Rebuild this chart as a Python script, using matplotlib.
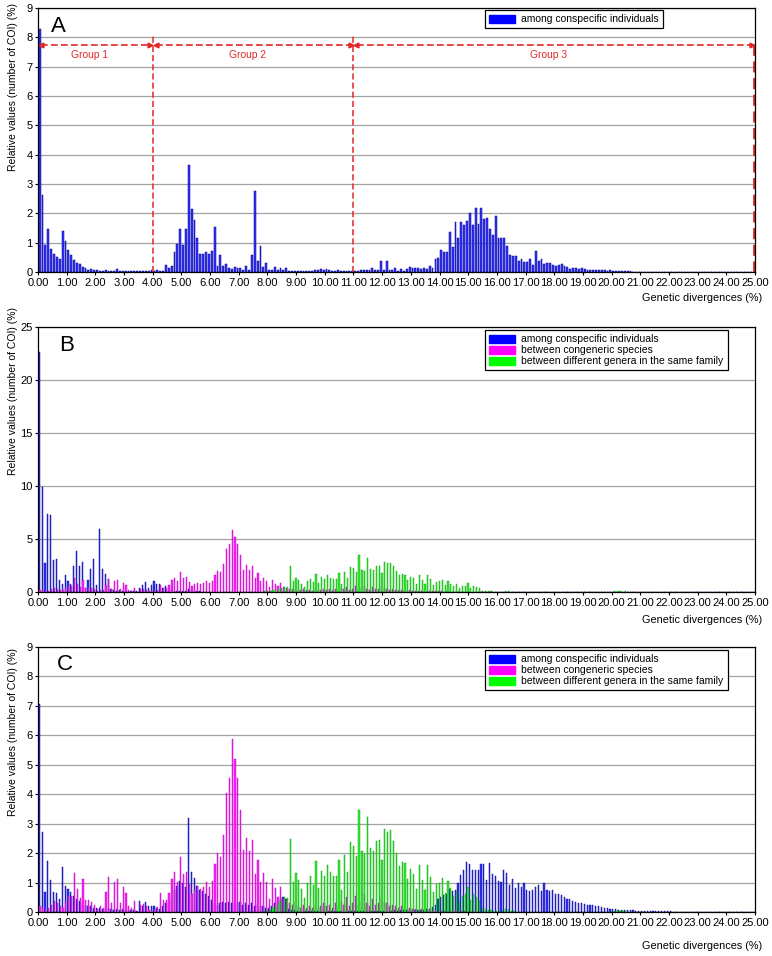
import numpy as np
import matplotlib.pyplot as plt
from matplotlib.patches import Patch

plt.rcParams['font.family'] = ['Liberation Sans', 'DejaVu Sans']

# 250 bins of 0.1 % divergence (0.0 .. 24.9), one row of 10 bins per 1 %
panel_a_conspecific = [
    8.30, 2.62, 0.92, 1.45, 0.77, 0.61, 0.50, 0.43, 1.41, 1.06,
    0.75, 0.58, 0.42, 0.29, 0.28, 0.17, 0.12, 0.08, 0.11, 0.07,
    0.06, 0.05, 0.05, 0.06, 0.05, 0.05, 0.04, 0.09, 0.05, 0.04,
    0.03, 0.04, 0.03, 0.03, 0.04, 0.03, 0.04, 0.03, 0.05, 0.08,
    0.05, 0.06, 0.04, 0.05, 0.24, 0.15, 0.19, 0.68, 0.94, 1.45,
    0.92, 1.45, 3.64, 2.16, 1.76, 1.15, 0.61, 0.61, 0.67, 0.63,
    0.72, 1.55, 0.19, 0.58, 0.20, 0.26, 0.14, 0.10, 0.18, 0.14,
    0.14, 0.07, 0.22, 0.07, 0.58, 2.77, 0.38, 0.90, 0.16, 0.32,
    0.07, 0.07, 0.17, 0.07, 0.14, 0.07, 0.14, 0.05, 0.04, 0.03,
    0.04, 0.03, 0.03, 0.03, 0.04, 0.05, 0.06, 0.08, 0.10, 0.08,
    0.10, 0.06, 0.05, 0.04, 0.06, 0.04, 0.03, 0.04, 0.03, 0.04,
    0.04, 0.05, 0.06, 0.08, 0.07, 0.08, 0.12, 0.06, 0.07, 0.38,
    0.06, 0.38, 0.06, 0.06, 0.15, 0.05, 0.09, 0.05, 0.09, 0.17,
    0.12, 0.12, 0.12, 0.10, 0.12, 0.09, 0.22, 0.12, 0.45, 0.49,
    0.75, 0.69, 0.69, 1.37, 0.86, 1.72, 1.15, 1.70, 1.60, 1.75,
    2.00, 1.60, 2.17, 1.64, 2.19, 1.80, 1.83, 1.48, 1.27, 1.90,
    1.16, 1.16, 1.16, 0.90, 0.57, 0.56, 0.55, 0.38, 0.45, 0.34,
    0.34, 0.45, 0.24, 0.72, 0.38, 0.44, 0.28, 0.30, 0.30, 0.23,
    0.20, 0.24, 0.27, 0.20, 0.18, 0.11, 0.12, 0.12, 0.10, 0.12,
    0.10, 0.08, 0.08, 0.07, 0.07, 0.06, 0.06, 0.06, 0.05, 0.06,
    0.04, 0.04, 0.03, 0.03, 0.03, 0.03, 0.02, 0.00, 0.00, 0.00,
] + [0.0] * 40

panel_b_conspecific = [
    22.6, 9.90, 2.75, 7.34, 7.25, 3.00, 3.13, 1.17, 0.73, 1.58,
    1.01, 0.73, 2.44, 3.83, 2.50, 2.82, 0.41, 1.11, 2.18, 3.10,
    0.63, 5.92, 2.15, 1.68, 1.20, 0.28, 0.15, 0.10, 0.20, 0.10,
    0.05, 0.10, 0.05, 0.10, 0.05, 0.40, 0.66, 0.92, 0.41, 0.66,
    1.07, 0.79, 0.73, 0.41, 0.54, 0.20, 0.15, 0.10, 0.10, 0.10,
    0.08, 0.10, 0.25, 0.08, 0.06, 0.05, 0.05, 0.04, 0.04, 0.04,
    0.03, 0.03, 0.03, 0.03, 0.02, 0.02, 0.02, 0.02, 0.02, 0.02,
] + [0.0] * 180

panel_c_conspecific = [
    7.08, 2.73, 0.67, 1.73, 1.09, 0.69, 0.63, 0.44, 1.52, 0.88,
    0.78, 0.68, 0.55, 0.45, 0.36, 0.30, 0.24, 0.20, 0.22, 0.15,
    0.12, 0.14, 0.10, 0.10, 0.12, 0.10, 0.08, 0.10, 0.08, 0.10,
    0.08, 0.06, 0.06, 0.06, 0.05, 0.37, 0.20, 0.34, 0.20, 0.20,
    0.20, 0.15, 0.10, 0.20, 0.30, 0.30, 0.45, 0.75, 0.90, 1.05,
    1.00, 0.85, 3.19, 1.36, 1.17, 0.88, 0.75, 0.70, 0.60, 0.55,
    0.40, 0.30, 0.25, 0.30, 0.35, 0.30, 0.35, 0.30, 0.30, 0.30,
    0.35, 0.25, 0.30, 0.25, 0.30, 0.20, 0.25, 0.20, 0.20, 0.15,
    0.15, 0.20, 0.30, 0.35, 0.45, 0.52, 0.45, 0.10, 0.08, 0.06,
    0.05, 0.05, 0.04, 0.05, 0.04, 0.04, 0.05, 0.04, 0.04, 0.05,
    0.04, 0.04, 0.04, 0.05, 0.04, 0.04, 0.05, 0.04, 0.04, 0.04,
    0.04, 0.05, 0.04, 0.05, 0.04, 0.05, 0.05, 0.04, 0.05, 0.05,
    0.05, 0.05, 0.06, 0.05, 0.06, 0.05, 0.06, 0.06, 0.07, 0.07,
    0.06, 0.07, 0.08, 0.08, 0.08, 0.09, 0.10, 0.16, 0.23, 0.43,
    0.52, 0.58, 0.60, 0.79, 0.72, 0.75, 0.97, 1.26, 1.43, 1.69,
    1.63, 1.41, 1.41, 1.41, 1.62, 1.64, 1.07, 1.67, 1.29, 1.23,
    1.06, 1.03, 1.41, 1.33, 0.92, 1.12, 0.80, 0.97, 0.86, 1.00,
    0.75, 0.72, 0.75, 0.86, 0.92, 0.72, 0.98, 0.75, 0.71, 0.75,
    0.61, 0.61, 0.57, 0.50, 0.45, 0.43, 0.37, 0.34, 0.29, 0.29,
    0.27, 0.25, 0.23, 0.24, 0.21, 0.20, 0.16, 0.14, 0.14, 0.10,
    0.10, 0.09, 0.08, 0.08, 0.07, 0.07, 0.06, 0.06, 0.05, 0.05,
    0.04, 0.04, 0.03, 0.03, 0.03, 0.02, 0.02, 0.02, 0.02, 0.02,
    0.02, 0.01, 0.01, 0.00, 0.00, 0.00, 0.00, 0.00, 0.00, 0.00,
] + [0.0] * 20

congeneric = [
    0.20, 0.15, 0.10, 0.12, 0.25, 0.38, 0.32, 0.20, 0.15, 0.35,
    0.55, 0.55, 1.33, 0.77, 0.46, 1.12, 0.41, 0.40, 0.35, 0.24,
    0.10, 0.21, 0.15, 0.67, 1.18, 0.32, 1.03, 1.11, 0.32, 0.85,
    0.63, 0.20, 0.12, 0.36, 0.03, 0.24, 0.26, 0.20, 0.07, 0.07,
    0.06, 0.17, 0.64, 0.42, 0.42, 0.64, 1.11, 1.35, 1.03, 1.86,
    1.29, 1.37, 0.95, 0.60, 0.75, 0.88, 0.79, 0.86, 1.02, 0.84,
    1.04, 1.64, 1.99, 1.88, 2.61, 4.03, 4.55, 5.86, 5.21, 4.55,
    3.48, 2.09, 2.53, 2.08, 2.44, 1.28, 1.75, 1.03, 1.33, 1.03,
    0.45, 1.12, 0.80, 0.52, 0.86, 0.45, 0.40, 0.30, 0.25, 0.30,
    0.20, 0.15, 0.25, 0.15, 0.20, 0.12, 0.25, 0.15, 0.20, 0.30,
    0.20, 0.25, 0.15, 0.30, 0.20, 0.35, 0.25, 0.50, 0.20, 0.30,
    0.55, 0.25, 0.35, 0.60, 0.30, 0.20, 0.45, 0.25, 0.30, 0.50,
    0.35, 0.30, 0.20, 0.25, 0.20, 0.15, 0.20, 0.15, 0.10, 0.15,
    0.10, 0.10, 0.08, 0.10, 0.08, 0.06, 0.08, 0.05, 0.06, 0.05,
    0.05, 0.04, 0.05, 0.04, 0.03, 0.03, 0.04, 0.03, 0.03, 0.02,
    0.02, 0.02, 0.02, 0.01, 0.01, 0.00, 0.00, 0.00, 0.00, 0.00,
] + [0.0] * 90

same_family = [0.0] * 78 + [
                                                    0.05, 0.08,
    0.10, 0.15, 0.20, 0.30, 0.40, 0.50, 0.48, 2.48, 1.02, 1.33,
    1.10, 0.77, 0.48, 1.00, 1.22, 0.92, 1.73, 0.81, 1.39, 1.23,
    1.60, 1.35, 1.21, 1.21, 1.76, 0.75, 1.92, 1.35, 2.39, 2.24,
    1.90, 3.48, 2.07, 1.98, 3.21, 2.16, 2.06, 2.41, 2.44, 1.75,
    2.82, 2.73, 2.78, 2.41, 2.02, 1.57, 1.70, 1.65, 1.13, 1.46,
    1.30, 0.78, 1.60, 1.09, 0.75, 1.58, 1.20, 0.67, 0.95, 1.00,
    1.17, 0.63, 1.05, 0.80, 0.55, 0.73, 0.35, 0.55, 0.60, 0.86,
    0.40, 0.60, 0.50, 0.38, 0.12, 0.10, 0.06, 0.06, 0.03, 0.03,
    0.03, 0.03, 0.10, 0.10, 0.02, 0.02, 0.01, 0.01, 0.01, 0.01,
    0.01, 0.01, 0.01, 0.01, 0.00, 0.00, 0.00, 0.00, 0.00, 0.00,
    0.00, 0.00, 0.00, 0.00, 0.00, 0.00, 0.00, 0.00, 0.00, 0.00,
    0.00, 0.00, 0.00, 0.00, 0.00, 0.00, 0.00, 0.00, 0.00, 0.00,
    0.05, 0.06, 0.05, 0.04, 0.05, 0.00, 0.00, 0.00, 0.00, 0.00,
] + [0.0] * 40

series_labels = ['among conspecific individuals',
                 'between congeneric species',
                 'between different genera in the same family']
group_labels = ['Group 1', 'Group 2', 'Group 3']
group_bounds = [0, 4, 11, 25]

bins = np.arange(250) * 0.1 + 0.025
W, H = 772, 956
RED = '#e32626'
BLUE = ('#3535ff', '#000090')
PINK = ('#ff22ff', '#c000c0')
GREEN = ('#33ee33', '#00a000')

fig = plt.figure(figsize=(W / 100, H / 100), dpi=100)


def add_axes(top_px, bottom_px):
    return fig.add_axes([38 / W, 1 - bottom_px / H, 717 / W, (bottom_px - top_px) / H])


def style(ax, ymax, ystep):
    ax.set_xlim(0, 25)
    ax.set_ylim(0, ymax)
    ax.set_xticks(np.arange(26))
    ax.set_xticklabels(['%.2f' % v for v in range(26)])
    ax.set_yticks(np.arange(0, ymax + 0.1, ystep))
    ax.yaxis.grid(True, color='#a3a3a3', lw=0.9)
    ax.set_axisbelow(True)
    ax.tick_params(labelsize=8, length=2.5, width=0.8, pad=1.5, colors='black')
    for s in ax.spines.values():
        s.set_linewidth(0.9)


def legend(ax, n, top_px):
    handles = [Patch(color=c) for c in ['#0000ff', '#ff00ff', '#00ff00'][:n]]
    lg = ax.legend(handles, series_labels[:n], loc='upper left',
                   bbox_to_anchor=(485 / W, 1 - top_px / H), bbox_transform=fig.transFigure,
                   borderaxespad=0, fancybox=False, framealpha=1, edgecolor='black',
                   fontsize=7.5, borderpad=0.4, handlelength=2.5, handleheight=0.8,
                   handletextpad=0.6, labelspacing=0.1)
    lg.get_frame().set_linewidth(0.9)


def labels(letter, letter_xy, xlabel_y, ylabel_top):
    fig.text(letter_xy[0] / W, 1 - letter_xy[1] / H, letter, fontsize=16, va='baseline')
    fig.text(762 / W, 1 - xlabel_y / H, 'Genetic divergences (%)', fontsize=7.8,
             ha='right', va='center')
    fig.text(13 / W, 1 - ylabel_top / H, 'Relative values (number of COI) (%)',
             rotation=90, fontsize=7.5, ha='center', va='top')


def triple_bars(ax, blue):
    for vals, col, off in [(blue, BLUE, 0.0), (congeneric, PINK, 0.025), (same_family, GREEN, 0.05)]:
        ax.bar(bins + off, vals, width=0.04, align='edge', color=col[0],
               edgecolor=col[1], linewidth=0.3)


# Panel A
ax = add_axes(8, 272)
style(ax, 9, 1)
ax.bar(bins, panel_a_conspecific, width=0.065, align='edge', color=BLUE[0],
       edgecolor=BLUE[1], linewidth=0.35)
y_arrow = 7.74
for i, name in enumerate(group_labels):
    x0, x1 = group_bounds[i], group_bounds[i + 1]
    ax.plot([x0 + 0.12, x1 - 0.12], [y_arrow, y_arrow], color=RED, lw=1.2, dashes=(4, 2))
    ax.plot([x0 + 0.1], [y_arrow], marker='<', ms=3.5, color=RED, clip_on=False)
    ax.plot([x1 - 0.1], [y_arrow], marker='>', ms=3.5, color=RED, clip_on=False)
    ax.text((x0 + x1) / 2 - 0.2, 7.4, name, color=RED, fontsize=7.4, ha='center', va='center')
for xv in group_bounds[1:3]:
    ax.plot([xv, xv], [0, 8.05], color=RED, lw=1.1, dashes=(4, 2))
ax.plot([24.97, 24.97], [0, 7.8], color=RED, lw=2.0, dashes=(4, 2), clip_on=False)
legend(ax, 1, 10)
labels('A', (51, 32), 298, 3)

# Panel B
ax = add_axes(327, 592)
style(ax, 25, 5)
triple_bars(ax, panel_b_conspecific)
legend(ax, 3, 330)
labels('B', (59, 351), 620, 307)

# Panel C
ax = add_axes(647, 912)
style(ax, 9, 1)
triple_bars(ax, panel_c_conspecific)
legend(ax, 3, 650)
labels('C', (57, 670), 946, 648)

fig.savefig('out.png', dpi=100)
